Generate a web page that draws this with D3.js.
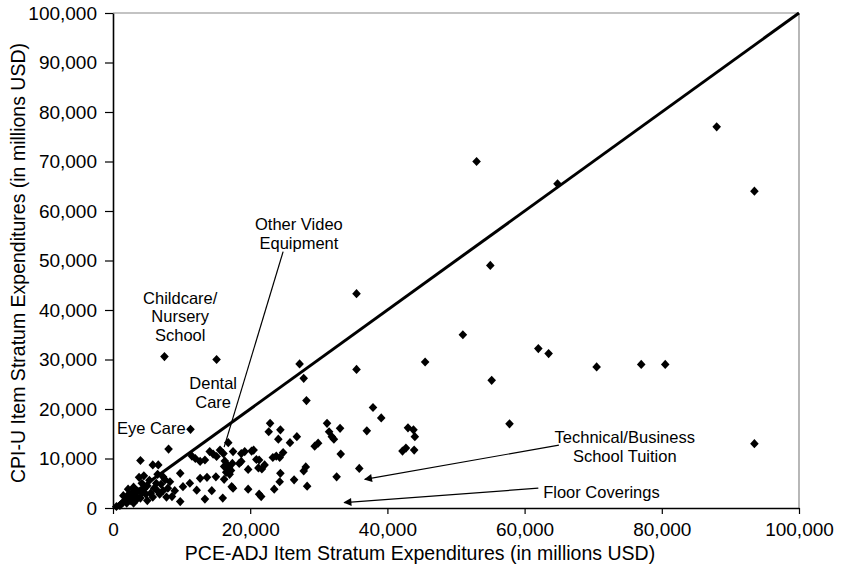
<!DOCTYPE html>
<html><head><meta charset="utf-8">
<script src="https://cdn.jsdelivr.net/npm/d3@7"></script>
<style>
html,body{margin:0;padding:0;background:#fff;}
svg{display:block;font-family:"Liberation Sans",Arial,sans-serif;}
</style></head>
<body>
<svg id="chart" width="845" height="568"></svg>
<script>
// values in thousands of millions USD (x = PCE-ADJ, y = CPI-U)
const pceAdj = [88.0,93.5,93.5,53.0,64.8,55.0,35.5,51.0,62.0,63.5,45.5,70.5,77.0,80.5,35.5,55.2,57.8,27.2,27.8,28.2,
  7.5,15.1,11.3,37.9,39.1,31.2,33.1,37.0,43.0,43.8,44.0,22.9,22.7,24.4,24.1,25.8,26.8,31.5,31.9,32.2,
  29.4,29.9,33.2,42.2,42.7,43.9,35.9,32.6,28.3,28.1,27.8,26.4,24.4,24.3,23.5,21.6,21.3,19.7,17.3,17.5,
  16.0,13.4,14.4,13.7,12.7,15.0,16.2,19.7,21.2,21.7,22.1,21.3,20.9,23.3,23.8,24.3,24.8,18.7,19.2,20.2,
  20.5,18.4,18.7,17.5,16.8,15.6,16.1,16.3,16.6,16.9,17.2,16.5,17.0,16.2,17.4,13.4,12.7,14.6,15.1,14.1,
  8.1,4.0,5.8,6.6,11.5,12.0,9.8,9.8,8.6,10.2,11.2,7.3,7.6,6.4,12.2,
  1.0,1.5,2.0,2.5,2.8,3.0,3.3,3.6,4.0,4.2,4.5,4.8,5.0,5.3,5.5,5.8,6.0,6.3,6.8,7.0,7.3,7.8,8.0,8.3,3.8,4.5,2.2,6.5,9.0,5.0,3.0,
  0.5,1.2,1.8,2.3,2.6,3.5,4.2,1.5,2.0,3.2];
const cpiU = [77.0,64.0,13.0,70.0,65.5,49.0,43.3,35.0,32.2,31.2,29.5,28.5,29.0,29.0,28.0,25.8,17.0,29.1,26.2,21.7,
  30.6,30.0,15.9,20.3,18.2,17.1,16.1,15.6,16.2,15.8,14.4,17.1,15.4,15.8,13.9,13.2,14.4,15.4,14.4,13.9,
  12.5,13.1,10.9,11.5,12.1,11.7,8.0,6.3,4.4,8.3,7.5,5.7,7.0,5.3,3.8,2.3,2.8,3.8,4.3,4.0,
  2.0,1.8,3.5,6.2,6.0,6.3,5.8,7.8,8.1,7.9,8.7,9.7,9.8,10.2,10.5,10.2,11.2,11.0,11.4,11.5,
  11.7,9.0,9.4,11.4,13.2,11.7,11.0,9.5,8.8,8.2,7.6,7.2,6.8,8.4,9.0,9.7,9.4,10.9,10.4,11.4,
  11.9,9.6,8.7,8.7,10.5,10.0,7.0,1.3,2.3,4.3,5.0,6.3,5.7,3.6,3.6,
  0.5,1.2,2.2,1.5,3.0,4.2,2.5,3.4,2.0,5.0,3.8,2.8,4.5,5.6,3.0,2.2,4.0,5.0,2.8,4.8,3.5,2.2,4.0,5.3,6.2,6.5,3.8,6.8,3.5,1.5,1.0,
  0.3,0.8,1.6,2.8,2.0,1.8,3.0,2.5,1.0,3.6];
const tickValues = [0,20,40,60,80,100];
const yTickValues = [0,10,20,30,40,50,60,70,80,90,100];
const xTitle = "PCE-ADJ Item Stratum Expenditures (in millions USD)";
const yTitle = "CPI-U Item Stratum Expenditures (in millions USD)";
const annoText = [["Other Video","Equipment"],["Childcare/","Nursery","School"],["Dental","Care"],["Eye Care"],["Technical/Business","School Tuition"],["Floor Coverings"]];
const annoX = [27.1,9.8,14.6,10.6,74.6,71.2];
const annoY = [56.2,41.3,24.1,14.9,13.1,2.1];
const annoAnchor = ["middle","middle","middle","end","middle","middle"];
const leaderFrom = [[24.8,51.8],[65.0,12.7],[62.0,4.0]];
const leaderTo = [[16.2,12.3],[36.7,5.8],[33.7,1.1]];
const leaderArrow = [false,true,true];

const svg = d3.select("#chart");
const L=113,R=799,T=13,B=508;
const x = d3.scaleLinear().domain([0,100]).range([L,R]);
const y = d3.scaleLinear().domain([0,100]).range([B,T]);
const fmt = v => d3.format(",")(v*1000);

// top/right frame
svg.append("line").attr("x1",L).attr("x2",R).attr("y1",T).attr("y2",T).attr("stroke","#888").attr("stroke-width",1.2);
svg.append("line").attr("x1",R).attr("x2",R).attr("y1",T).attr("y2",B).attr("stroke","#888").attr("stroke-width",1.2);

const xa = svg.append("g").attr("transform",`translate(0,${B})`)
  .call(d3.axisBottom(x).tickValues(tickValues).tickFormat(fmt).tickSize(6).tickSizeOuter(0).tickPadding(9));
const ya = svg.append("g").attr("transform",`translate(${L},0)`)
  .call(d3.axisLeft(y).tickValues(yTickValues).tickFormat(fmt).tickSize(8).tickSizeOuter(0).tickPadding(8));
[xa,ya].forEach(g=>{
  g.select(".domain").attr("stroke","#000").attr("stroke-width",1.6);
  g.selectAll(".tick line").attr("stroke","#000").attr("stroke-width",1.2);
  g.selectAll("text").attr("fill","#000").style("font-size","19px").style("font-family","Liberation Sans, Arial, sans-serif");
});

// diagonal
svg.append("line").attr("x1",x(0)).attr("y1",y(0)).attr("x2",x(100)).attr("y2",y(100))
  .attr("stroke","#000").attr("stroke-width",3);

// points
const pts = pceAdj.map((v,i)=>({x:v,y:cpiU[i]}));
svg.append("g").selectAll("path").data(pts).join("path")
  .attr("d","M0,-4.6L4.3,0L0,4.6L-4.3,0Z")
  .attr("transform",d=>`translate(${x(d.x)},${y(d.y)})`)
  .attr("fill","#000");

// leaders
svg.append("defs").append("marker").attr("id","ah").attr("viewBox","0 0 10 10").attr("refX",9).attr("refY",5)
  .attr("markerWidth",10).attr("markerHeight",8).attr("markerUnits","userSpaceOnUse").attr("orient","auto")
  .append("path").attr("d","M0,0L10,5L0,10Z").attr("fill","#000");
leaderFrom.forEach((f,i)=>{
  const l = svg.append("line").attr("x1",x(f[0])).attr("y1",y(f[1])).attr("x2",x(leaderTo[i][0])).attr("y2",y(leaderTo[i][1]))
    .attr("stroke","#000").attr("stroke-width",1.2);
  if(leaderArrow[i]) l.attr("marker-end","url(#ah)");
});

// annotation text
annoText.forEach((lines,i)=>{
  const t = svg.append("text").attr("x",x(annoX[i])).attr("y",y(annoY[i])).attr("text-anchor",annoAnchor[i])
    .style("font-size","16.5px").attr("fill","#000");
  lines.forEach((s,j)=>t.append("tspan").attr("x",x(annoX[i])).attr("dy",j===0?0:18.8).text(s));
});

// axis titles
svg.append("text").attr("x",420).attr("y",560).attr("text-anchor","middle").style("font-size","19.5px").text(xTitle);
svg.append("text").attr("transform","translate(25,263) rotate(-90)").attr("text-anchor","middle").style("font-size","19.5px").text(yTitle);
</script>
</body></html>
